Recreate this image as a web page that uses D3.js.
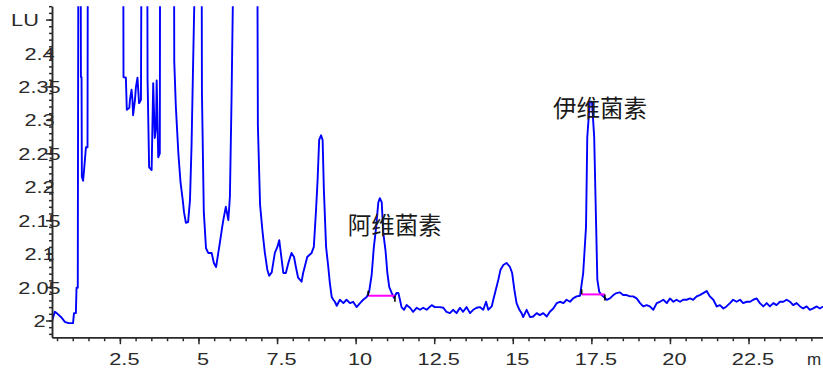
<!DOCTYPE html>
<html>
<head>
<meta charset="utf-8">
<script src="https://cdn.jsdelivr.net/npm/d3@7"></script>
<style>
  html, body { margin: 0; padding: 0; background: #fff; }
  svg { display: block; }
</style>
</head>
<body>
<svg id="chart" width="823" height="371"></svg>
<script>
// retention time (min) of each sampled point
const times = [
	0.34, 0.43, 0.49, 0.65, 0.75, 0.86, 1.01, 1.04, 1.10, 1.12, 1.16, 1.18, 1.25, 1.26, 1.28, 1.29, 1.33, 1.36, 1.42, 1.47, 1.48,
	2.605, 2.615, 2.69, 2.72, 2.80, 2.82, 2.87, 2.90, 2.92, 2.98, 3.01, 3.06, 3.11, 3.17, 3.19,
	3.37, 3.38, 3.43, 3.51, 3.56, 3.61, 3.65, 3.67, 3.72, 3.77, 3.78,
	4.22, 4.23, 4.28, 4.36, 4.43, 4.50, 4.54, 4.60, 4.67, 4.73, 4.78, 4.83, 4.92,
	5.10, 5.11, 5.17, 5.24, 5.31, 5.42, 5.49, 5.56, 5.63, 5.68, 5.74, 5.79, 5.87, 5.95, 6.00, 6.05, 6.13,
	6.87, 6.89, 6.96, 7.04, 7.11, 7.19, 7.25, 7.33, 7.43, 7.51, 7.57, 7.61, 7.70, 7.78, 7.86, 7.96, 8.04, 8.10, 8.17, 8.28, 8.33, 8.46, 8.60, 8.67,
	8.74, 8.79, 8.84, 8.90, 8.95, 8.99, 9.06, 9.13, 9.18, 9.24, 9.29, 9.34, 9.40, 9.50, 9.61, 9.71, 9.82, 9.92, 10.03, 10.14, 10.24, 10.35,
	10.43, 10.51, 10.58, 10.65, 10.72, 10.77, 10.83, 10.88, 10.95, 11.01, 11.07, 11.15, 11.22, 11.30, 11.36, 11.41, 11.46, 11.54, 11.62,
	11.73, 11.83, 11.94, 12.05, 12.15, 12.26, 12.42, 12.52, 12.68, 12.79, 12.89, 13.00, 13.10, 13.21, 13.32, 13.42, 13.53, 13.64, 13.74, 13.85, 13.95,
	14.06, 14.15, 14.22, 14.33, 14.38, 14.46, 14.54, 14.61, 14.70, 14.80, 14.91, 14.98, 15.05, 15.12, 15.21, 15.28, 15.33, 15.44, 15.55, 15.65,
	15.76, 15.86, 15.97, 16.08, 16.18, 16.29, 16.40, 16.50, 16.61, 16.71, 16.82, 16.92, 17.03, 17.14,
	17.24, 17.33, 17.37, 17.45, 17.52, 17.59, 17.65, 17.69, 17.75, 17.83, 17.90, 17.99,
	18.09, 18.20, 18.30, 18.41, 18.51, 18.62, 18.73, 18.83, 18.94, 19.05, 19.15, 19.26, 19.36, 19.47, 19.58,
	19.68, 19.79, 19.90, 20.00, 20.11, 20.21, 20.32, 20.42, 20.53, 20.64, 20.74, 20.85, 20.95, 21.06, 21.17,
	21.27, 21.38, 21.49, 21.59, 21.70, 21.80, 21.91, 22.01, 22.12, 22.23, 22.33, 22.44, 22.55, 22.65, 22.76, 22.86, 22.97, 23.08,
	23.18, 23.29, 23.39, 23.50, 23.61, 23.71, 23.82, 23.92, 24.03, 24.14, 24.24, 24.35, 24.45, 24.56, 24.67, 24.77, 24.87
];

// fluorescence signal (LU); 2.6 = off scale, the trace is clipped there
const signal = [
	1.999, 2.013, 2.011, 2.004, 1.998, 1.996, 1.996, 2.011, 2.011, 2.049, 2.049, 2.6, 2.6, 2.364, 2.364, 2.215, 2.209, 2.225, 2.259, 2.259, 2.6,
	2.6, 2.364, 2.363, 2.315, 2.318, 2.330, 2.345, 2.330, 2.307, 2.330, 2.349, 2.363, 2.325, 2.330, 2.6,
	2.6, 2.361, 2.229, 2.225, 2.355, 2.273, 2.289, 2.359, 2.244, 2.250, 2.6,
	2.6, 2.387, 2.320, 2.250, 2.206, 2.180, 2.162, 2.146, 2.147, 2.180, 2.262, 2.385, 2.6,
	2.6, 2.342, 2.162, 2.108, 2.101, 2.101, 2.086, 2.080, 2.101, 2.116, 2.135, 2.150, 2.170, 2.150, 2.185, 2.325, 2.6,
	2.6, 2.292, 2.173, 2.132, 2.102, 2.076, 2.067, 2.072, 2.101, 2.110, 2.120, 2.105, 2.071, 2.071, 2.086, 2.101, 2.095, 2.080, 2.064, 2.058, 2.071, 2.095, 2.101, 2.110,
	2.165, 2.210, 2.270, 2.277, 2.270, 2.195, 2.110, 2.080, 2.056, 2.035, 2.031, 2.028, 2.022, 2.031, 2.026, 2.031, 2.026, 2.028, 2.020, 2.026, 2.031, 2.035,
	2.043, 2.068, 2.110, 2.138, 2.176, 2.183, 2.177, 2.131, 2.105, 2.071, 2.050, 2.041, 2.034, 2.041, 2.041, 2.031, 2.020, 2.016, 2.023,
	2.019, 2.013, 2.019, 2.016, 2.019, 2.016, 2.023, 2.020, 2.020, 2.019, 2.013, 2.011, 2.016, 2.011, 2.019, 2.013, 2.020, 2.011, 2.016, 2.019, 2.020,
	2.016, 2.028, 2.016, 2.021, 2.031, 2.046, 2.061, 2.076, 2.083, 2.086, 2.080, 2.071, 2.046, 2.026, 2.016, 2.011, 2.005, 2.016, 2.005, 2.006,
	2.011, 2.008, 2.011, 2.006, 2.013, 2.018, 2.026, 2.028, 2.026, 2.031, 2.028, 2.033, 2.036, 2.037,
	2.071, 2.140, 2.274, 2.327, 2.327, 2.274, 2.146, 2.061, 2.043, 2.038, 2.035, 2.031,
	2.033, 2.038, 2.041, 2.042, 2.038, 2.038, 2.036, 2.036, 2.033, 2.026, 2.021, 2.023, 2.021, 2.016, 2.026,
	2.028, 2.031, 2.026, 2.033, 2.028, 2.031, 2.028, 2.031, 2.031, 2.033, 2.031, 2.036, 2.038, 2.041, 2.044,
	2.036, 2.031, 2.021, 2.023, 2.018, 2.021, 2.026, 2.031, 2.028, 2.031, 2.026, 2.028, 2.028, 2.031, 2.033, 2.026, 2.021, 2.026,
	2.021, 2.026, 2.023, 2.028, 2.028, 2.031, 2.028, 2.023, 2.026, 2.021, 2.018, 2.021, 2.016, 2.018, 2.021, 2.018, 2.021
];

const xTickValues = [2.5, 5, 7.5, 10, 12.5, 15, 17.5, 20, 22.5];
const yTickValues = [2, 2.05, 2.1, 2.15, 2.2, 2.25, 2.3, 2.35, 2.4, 2.45];
const yUnit = 'LU';
const xUnit = 'm';

// integrated peaks
const peakNames = ['阿维菌素', '伊维菌素'];
const peakApexTimes = [10.77, 17.49];
const peakApexValues = [2.183, 2.327];
const baselineStarts = [10.40, 17.19];
const baselineEnds = [11.25, 17.93];
const baselineValues = [2.037, 2.039];

if (times.length !== signal.length) console.error('length mismatch', times.length, signal.length);

const svg = d3.select('#chart');
const points = times.map((t, i) => ({ t: t, v: signal[i] }));

const x = d3.scaleLinear().domain([0.34, 25]).range([52, 827.1]);
const y = d3.scaleLinear().domain([1.975, 2.47]).range([337.2, 6.2]);

const axisColor = '#2a2a2a';
const labelFont = '"Liberation Sans", Arial, sans-serif';

svg.append('clipPath').attr('id', 'plotClip')
	.append('rect')
		.attr('x', x(0.34)).attr('y', y(2.47))
		.attr('width', 823 - x(0.34)).attr('height', y(1.975) - y(2.47));

// trace
const line = d3.line()
	.x(d => x(d.t))
	.y(d => y(d.v));

svg.append('path')
	.datum(points)
	.attr('clip-path', 'url(#plotClip)')
	.attr('fill', 'none')
	.attr('stroke', '#0000ff')
	.attr('stroke-width', 1.9)
	.attr('stroke-linejoin', 'round')
	.attr('d', line);

// peak baselines
const peaks = peakNames.map((name, i) => ({
	name: name,
	t: peakApexTimes[i],
	v: peakApexValues[i],
	t0: baselineStarts[i],
	t1: baselineEnds[i],
	b: baselineValues[i],
}));

svg.append('g').selectAll('line')
	.data(peaks)
	.enter().append('line')
		.attr('x1', d => x(d.t0)).attr('x2', d => x(d.t1))
		.attr('y1', d => y(d.b)).attr('y2', d => y(d.b))
		.attr('stroke', '#ff00ff')
		.attr('stroke-width', 2);

// start / end markers of the integration
const marks = svg.append('g').attr('stroke', '#000').attr('stroke-width', 1.6);
marks.selectAll('.start')
	.data(peaks)
	.enter().append('line')
		.attr('class', 'start')
		.attr('x1', d => x(d.t0)).attr('x2', d => x(d.t0))
		.attr('y1', d => y(d.b) - 5).attr('y2', d => y(d.b));
marks.selectAll('.end')
	.data(peaks)
	.enter().append('line')
		.attr('class', 'end')
		.attr('x1', d => x(d.t1)).attr('x2', d => x(d.t1))
		.attr('y1', d => y(d.b)).attr('y2', d => y(d.b) + 6);

// peak names
const nameOffsets = [[-32, 26], [-38, 5]];
svg.append('g').selectAll('text')
	.data(peaks)
	.enter().append('text')
		.attr('x', (d, i) => x(d.t) + nameOffsets[i][0])
		.attr('y', (d, i) => y(d.v) + nameOffsets[i][1])
		.attr('dominant-baseline', 'central')
		.attr('font-family', '"Noto Sans CJK SC", sans-serif')
		.attr('font-size', 23.5)
		.attr('fill', '#1a1a1a')
		.text(d => d.name);

// x axis
const xMinor = d3.range(1, 50).map(i => i * 0.5);
const xAxisG = svg.append('g').attr('transform', `translate(0,${y(1.975)})`);
xAxisG.append('g')
	.call(d3.axisBottom(x).tickValues(xMinor).tickSize(4).tickSizeOuter(0).tickFormat(''));
xAxisG.append('g')
	.call(d3.axisBottom(x).tickValues(xTickValues).tickSize(7).tickSizeOuter(0).tickFormat(d3.format('')))
	.call(g => g.selectAll('text')
		.attr('y', 28).attr('dy', 0).attr('x', 0)
		.attr('transform', 'translate(4,0) scale(1.28,1)'));

xAxisG.append('text')
	.attr('x', x(24.36))
	.attr('y', 28)
	.attr('font-family', labelFont)
	.attr('font-size', 17)
	.attr('fill', axisColor)
	.text(xUnit);

// y axis
const yMinor = d3.range(198, 248).map(i => i / 100);
const yAxisG = svg.append('g').attr('transform', `translate(${x(0.34)},0)`);
yAxisG.append('g')
	.call(d3.axisLeft(y).tickValues(yMinor).tickSize(3).tickSizeOuter(0).tickFormat(''));
yAxisG.append('g')
	.call(d3.axisLeft(y).tickValues(yTickValues).tickSize(6).tickSizeOuter(0)
		.tickFormat(d => d === 2.45 ? yUnit : d3.format('')(d)))
	.call(g => g.selectAll('text')
		.attr('x', 0).attr('dy', '0.36em')
		.attr('text-anchor', 'middle')
		.attr('transform', d => d === 2.45 ? 'translate(-27,0) scale(1.28,1)' : 'translate(-12.5,0) scale(1.28,1)'));

svg.selectAll('.domain, .tick line')
	.attr('stroke', axisColor)
	.attr('stroke-width', 1.5);
svg.selectAll('.tick text')
	.attr('font-family', labelFont)
	.attr('font-size', 17)
	.attr('fill', axisColor);
</script>
</body>
</html>
